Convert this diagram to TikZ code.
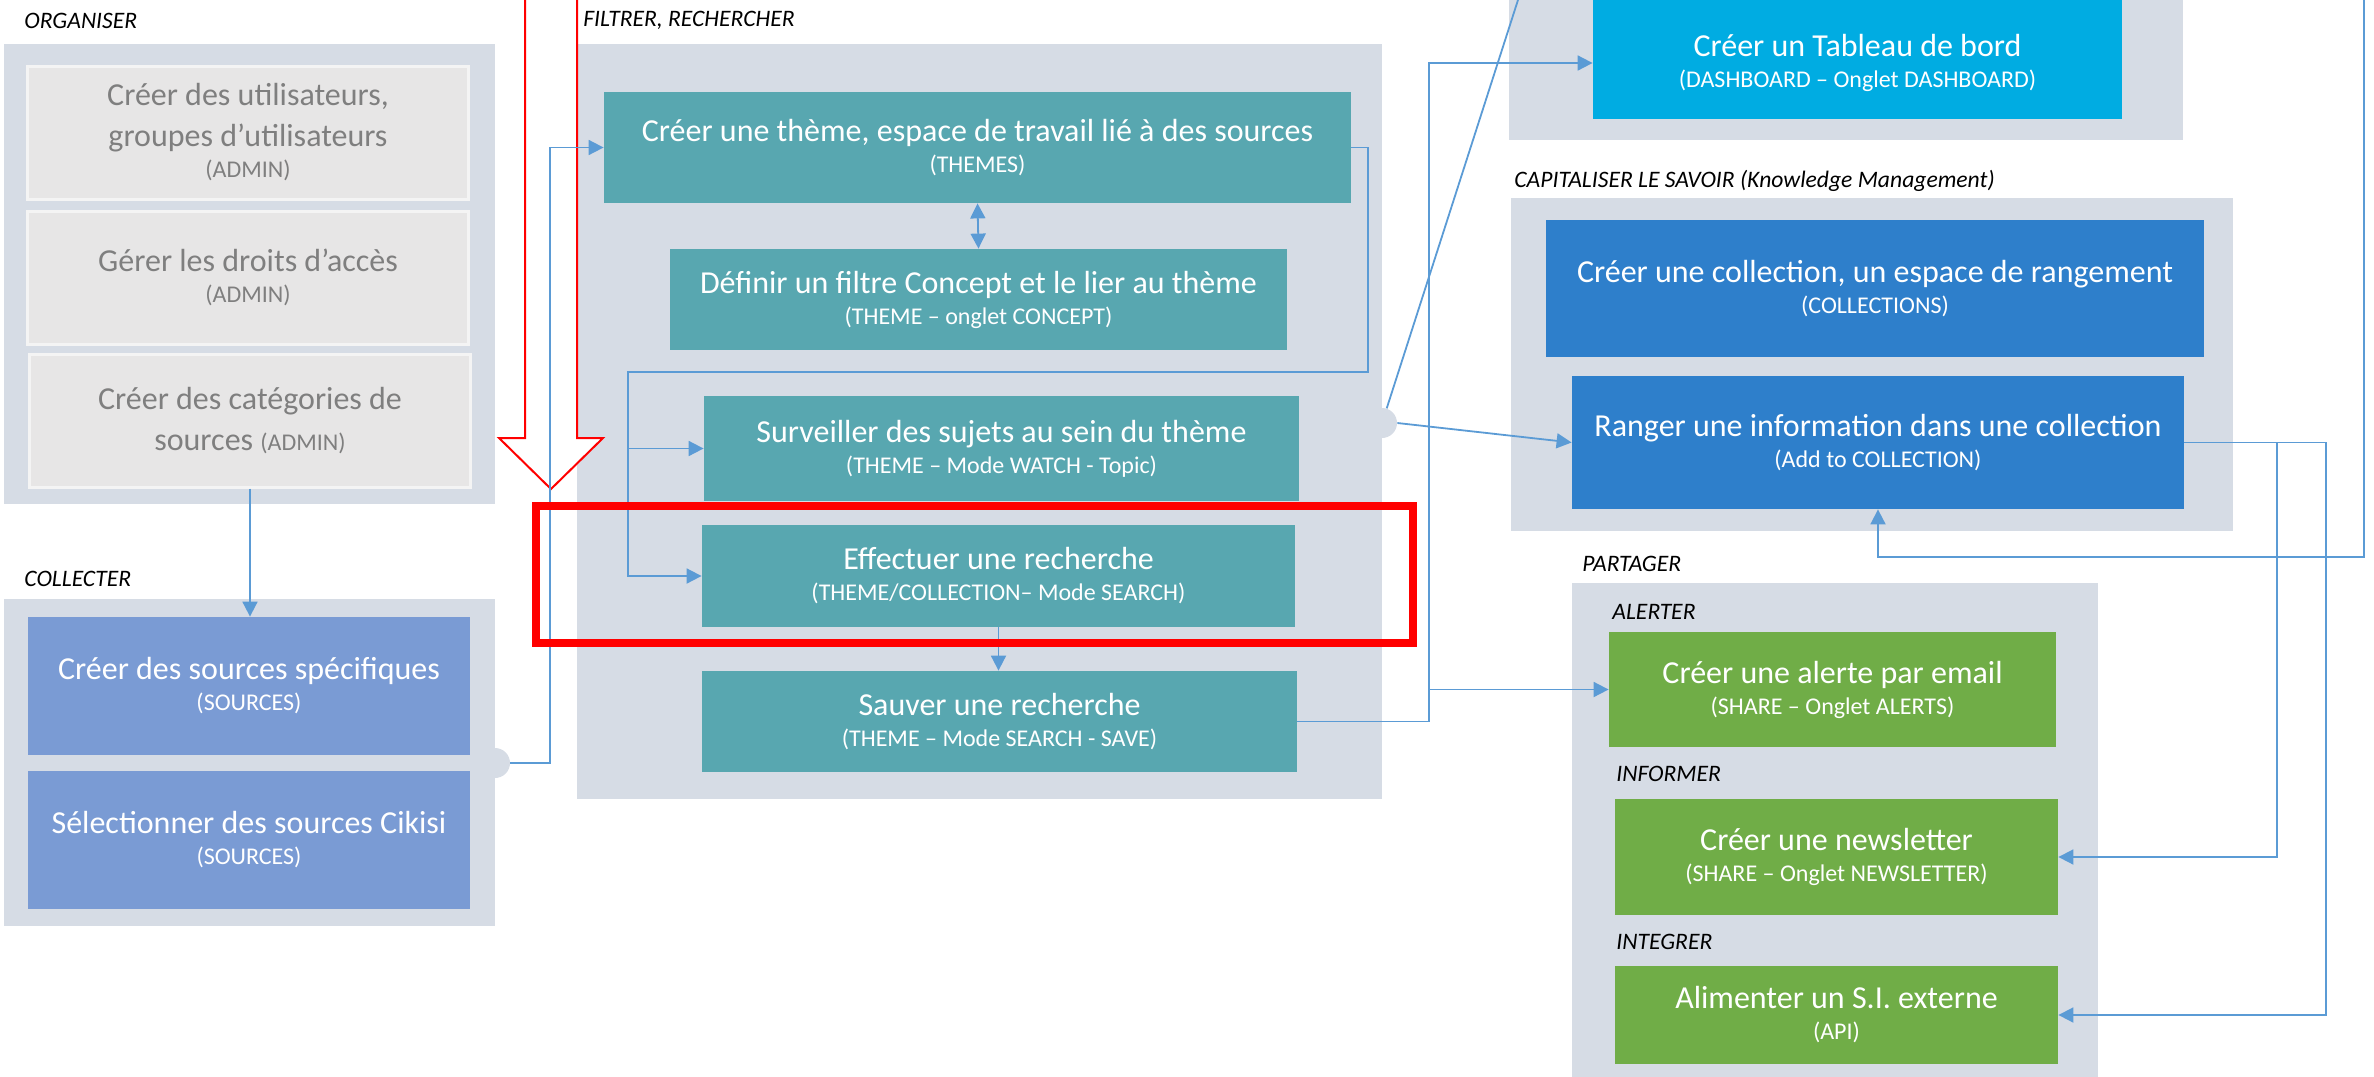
\documentclass[tikz,border=0pt]{standalone}
\usepackage{fontspec}
\setmainfont{Carlito}
\usepackage{xcolor}
\usepackage{tikz}
\usetikzlibrary{
    positioning,
    arrows.meta,
    calc
}
\definecolor{panelGray}{RGB}{214, 220, 229}
\definecolor{adminGray}{RGB}{231, 230, 230}
\definecolor{adminText}{RGB}{127, 127, 127}
\definecolor{sourceBlue}{RGB}{122, 155, 212}
\definecolor{themeTeal}{RGB}{88, 167, 176}
\definecolor{dashCyan}{RGB}{0, 172, 226}
\definecolor{kmBlue}{RGB}{46, 127, 203}
\definecolor{shareGreen}{RGB}{112, 173, 71}
\definecolor{wireBlue}{RGB}{91, 155, 213}
\definecolor{markRed}{RGB}{255, 0, 0}

\newcommand{\tabLabel}[1]{{\fontsize{12}{14}\selectfont #1}}

\tikzset{
    panel/.style={fill=panelGray, inner sep=0pt},
    bump/.style={circle, fill=panelGray, inner sep=0pt, minimum size=15pt},
    task/.style={inner sep=0pt, align=center, text=white, font=\fontsize{16}{20.5}\selectfont},
    adminTask/.style={task, fill=adminGray, draw=white!55!adminGray, line width=1.5pt, text=adminText},
    sourceTask/.style={task, fill=sourceBlue},
    themeTask/.style={task, fill=themeTeal},
    dashTask/.style={task, fill=dashCyan},
    kmTask/.style={task, fill=kmBlue},
    shareTask/.style={task, fill=shareGreen},
    groupTitle/.style={font=\fontsize{11.8}{14}\selectfont\itshape, anchor=base west, inner sep=0pt},
    wire/.style={draw=wireBlue, line width=0.9pt},
    wireArrow/.style={wire, -{Triangle[length=7.5pt, width=7.5pt]}},
    wireBoth/.style={wire, {Triangle[length=7.5pt, width=7.5pt]}-{Triangle[length=7.5pt, width=7.5pt]}}
}

\begin{document}
\begin{tikzpicture}[x=0.5pt, y=-0.5pt]
    \useasboundingbox (0,0) rectangle (2374,1077);

    % group panels
    \node[panel, minimum width=245.5pt, minimum height=230pt] (orgPanel) at (249.5,274) {};
    \node[panel, minimum width=245.5pt, minimum height=163.5pt] (colPanel) at (249.5,762.5) {};
    \node[panel, minimum width=402.5pt, minimum height=377.5pt] (filtPanel) at (979.5,421.5) {};
    \node[panel, minimum width=337pt, minimum height=80pt] (dashPanel) at (1846,60) {};
    \node[panel, minimum width=361pt, minimum height=166.5pt] (kmPanel) at (1872,364.5) {};
    \node[panel, minimum width=263pt, minimum height=258.5pt] (sharePanel) at (1835,841.5) {};
    \node[bump] (colBump) at (495,763) {};
    \node[bump] (filtBump) at (1382,423) {};

    % group titles
    \node[groupTitle] (orgTitle) at (24,28) {ORGANISER};
    \node[groupTitle] (colTitle) at (24,586) {COLLECTER};
    \node[groupTitle] (filtTitle) at (583,26) {FILTRER, RECHERCHER};
    \node[groupTitle] (kmTitle) at (1514,187) {CAPITALISER LE SAVOIR (Knowledge Management)};
    \node[groupTitle] (shareTitle) at (1582,571) {PARTAGER};
    \node[groupTitle] (alertTitle) at (1612,619) {ALERTER};
    \node[groupTitle] (newsTitle) at (1616,781) {INFORMER};
    \node[groupTitle] (apiTitle) at (1616,949) {INTEGRER};

    % ORGANISER
    \node[adminTask, minimum width=220.75pt, minimum height=66.5pt] (usersBox) at (248,132.5)
        {Créer des utilisateurs,\\ groupes d’utilisateurs\\[-5pt] \tabLabel{(ADMIN)}};
    \node[adminTask, minimum width=220.75pt, minimum height=66.5pt] (rightsBox) at (248,277.5)
        {Gérer les droits d’accès\\[-5pt] \tabLabel{(ADMIN)}};
    \node[adminTask, minimum width=220.75pt, minimum height=66.5pt] (categoriesBox) at (250,420.5)
        {Créer des catégories de\\ sources \tabLabel{(ADMIN)}};

    % COLLECTER
    \node[sourceTask, minimum width=221pt, minimum height=69pt] (sourcesBox) at (249,686)
        {Créer des sources spécifiques\\[-5pt] \tabLabel{(SOURCES)}};
    \node[sourceTask, minimum width=221pt, minimum height=69pt] (cikisiBox) at (249,840)
        {Sélectionner des sources Cikisi\\[-5pt] \tabLabel{(SOURCES)}};

    % FILTRER, RECHERCHER
    \node[themeTask, minimum width=373.5pt, minimum height=55.5pt] (themeBox) at (977.5,147.5)
        {Créer une thème, espace de travail lié à des sources\\[-5pt] \tabLabel{(THEMES)}};
    \node[themeTask, minimum width=308.5pt, minimum height=50.5pt] (conceptBox) at (978.5,299.5)
        {Définir un filtre Concept et le lier au thème\\[-5pt] \tabLabel{(THEME – onglet CONCEPT)}};
    \node[themeTask, minimum width=297.5pt, minimum height=52.5pt] (watchBox) at (1001.5,448.5)
        {Surveiller des sujets au sein du thème\\[-5pt] \tabLabel{(THEME – Mode WATCH - Topic)}};
    \node[themeTask, minimum width=296.5pt, minimum height=51pt] (searchBox) at (998.5,576)
        {Effectuer une recherche\\[-5pt] \tabLabel{(THEME/COLLECTION– Mode SEARCH)}};
    \node[themeTask, minimum width=297.5pt, minimum height=50.5pt] (saveBox) at (999.5,721.5)
        {Sauver une recherche\\[-5pt] \tabLabel{(THEME – Mode SEARCH - SAVE)}};

    % tableau de bord (cut at the top)
    \node[dashTask, minimum width=264.5pt, minimum height=56pt] (dashBox) at (1857.5,63)
        {Créer un Tableau de bord\\[-5pt] \tabLabel{(DASHBOARD – Onglet DASHBOARD)}};
    \fill[dashCyan] ([yshift=-0.5pt]dashBox.north west) rectangle ([yshift=20pt]dashBox.north east);

    % CAPITALISER
    \node[kmTask, minimum width=329pt, minimum height=68.5pt] (collectionBox) at (1875,288.5)
        {Créer une collection, un espace de rangement\\[-5pt] \tabLabel{(COLLECTIONS)}};
    \node[kmTask, minimum width=306pt, minimum height=66.5pt] (rangerBox) at (1878,442.5)
        {Ranger une information dans une collection\\[-5pt] \tabLabel{(Add to COLLECTION)}};

    % PARTAGER
    \node[shareTask, minimum width=223.5pt, minimum height=57.5pt] (alertBox) at (1832.5,689.5)
        {Créer une alerte par email\\[-5pt] \tabLabel{(SHARE – Onglet ALERTS)}};
    \node[shareTask, minimum width=221.5pt, minimum height=58pt] (newsBox) at (1836.5,857)
        {Créer une newsletter\\[-5pt] \tabLabel{(SHARE – Onglet NEWSLETTER)}};
    \node[shareTask, minimum width=221.5pt, minimum height=49pt] (apiBox) at (1836.5,1015)
        {Alimenter un S.I. externe\\[-5pt] \tabLabel{(API)}};

    % big red arrow
    \draw[markRed, line width=1pt, fill=white] (525,-10) -- (525,438) -- (499,438) -- (551,489)
        -- (603,438) -- (577,438) -- (577,-10) -- cycle;

    % connectors
    \coordinate (leftRiser) at (550,763);
    \coordinate (themeDrop) at (1368,372);
    \coordinate (filterSplit) at (628,372);
    \coordinate (saveRiser) at (1429,721.5);
    \coordinate (dashOut) at (1518,0);
    \coordinate (newsRiser) at (2277,442.5);
    \coordinate (apiRiser) at (2326,442.5);
    \coordinate (kmIn) at (2364,0);
    \coordinate (kmTurn) at (1878,557);

    \draw[wireArrow] (categoriesBox.south) -- (categoriesBox.south |- sourcesBox.north);
    \draw[wireArrow] (colBump.east) -- (leftRiser) |- (themeBox.west);
    \draw[wireBoth] (themeBox.south) -- (conceptBox.north);
    \draw[wireArrow] (themeBox.east) -| (themeDrop) -- (filterSplit) |- (watchBox.west);
    \draw[wireArrow] (filterSplit) |- (searchBox.west);
    \draw[wireArrow] (searchBox.south) -- (searchBox.south |- saveBox.north);
    \draw[wireArrow] (saveBox.east) -- (saveRiser) |- (alertBox.west);
    \draw[wireArrow] (saveRiser) |- (dashBox.west);
    \draw[wire] (filtBump) -- (dashOut);
    \draw[wireArrow] (filtBump.east) -- (rangerBox.west);
    \draw[wireArrow] (rangerBox.east) -- (newsRiser) |- (newsBox.east);
    \draw[wireArrow] (rangerBox.east) -- (apiRiser) |- (apiBox.east);
    \draw[wireArrow] (kmIn) |- (kmTurn) -- (rangerBox.south);

    % red frame round the search
    \draw[markRed, line width=4pt] (536,506) rectangle (1413,643);
\end{tikzpicture}
\end{document}
